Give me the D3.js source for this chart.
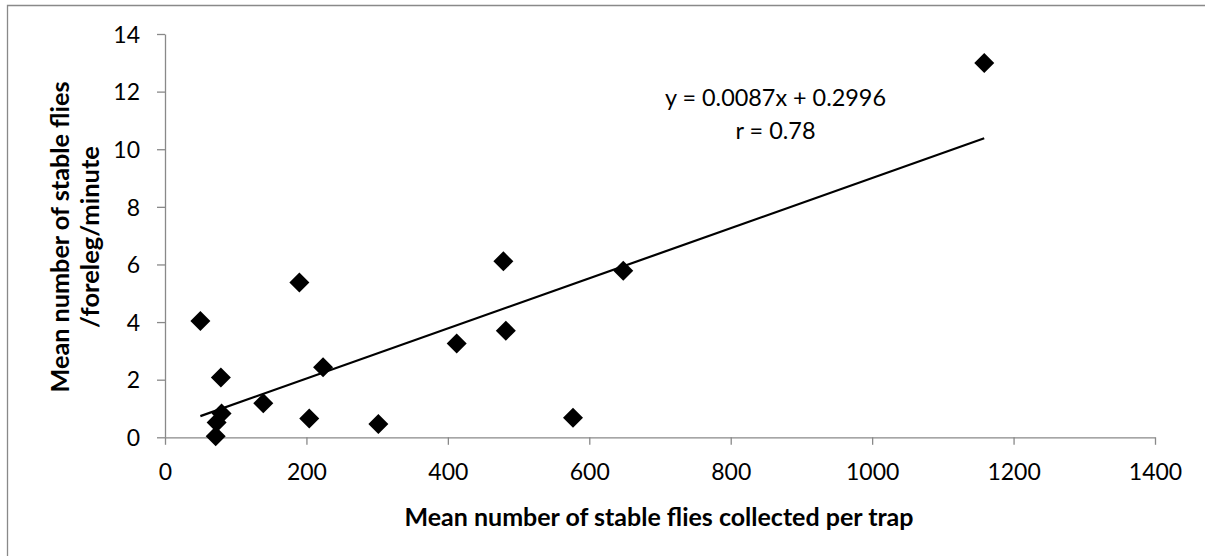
<!DOCTYPE html>
<html><head><meta charset="utf-8">
<script src="https://cdn.jsdelivr.net/npm/d3@7"></script>
<style>html,body{margin:0;padding:0;background:#fff;}svg{display:block;font-family:Lato,"Open Sans",sans-serif;}</style>
</head><body>
<script>
// Data
const xValues = [50, 190, 79, 223.5, 139, 204, 301.7, 412.5, 478.5, 482, 71.7, 73, 80, 577, 648, 1158.5];
const yValues = [4.04, 5.37, 2.08, 2.43, 1.18, 0.65, 0.46, 3.26, 6.11, 3.70, 0.04, 0.51, 0.83, 0.68, 5.78, 12.99];
const xTicks = [0, 200, 400, 600, 800, 1000, 1200, 1400];
const yTicks = [0, 2, 4, 6, 8, 10, 12, 14];
const slope = 0.0087, intercept = 0.2996;
const equationLines = ["y = 0.0087x + 0.2996", "r = 0.78"];
const xTitle = "Mean number of stable flies collected per trap";
const yTitleLines = ["Mean number of stable flies", "/foreleg/minute"];

const W = 1205, H = 556;
const svg = d3.select("body").append("svg").attr("width", W).attr("height", H);
const axisColor = "#898989";

// outer chart border (right/bottom beyond frame)
svg.append("path").attr("d", `M7.5,${H+5}V5.5H${W+5}`).attr("fill","none").attr("stroke", axisColor).attr("stroke-width",1.3);

const x = d3.scaleLinear().domain([0, 1400]).range([165, 1155]);
const y = d3.scaleLinear().domain([0, 14]).range([437.3, 34]);

// squeeze/stretch text to a target width while keeping its height
function fitText(sel, target) {
  const w = sel.node().getComputedTextLength();
  if (w > 0 && Math.abs(w - target) > 1) sel.attr("textLength", target).attr("lengthAdjust", "spacingAndGlyphs");
}

// X axis
const xAxis = svg.append("g").attr("transform", `translate(0,${y(0)})`)
  .call(d3.axisBottom(x).tickValues(xTicks).tickSize(7.5).tickSizeOuter(0).tickFormat(d3.format("d")));
xAxis.select(".domain").attr("stroke", axisColor).attr("stroke-width", 1.3);
xAxis.selectAll(".tick line").attr("stroke", axisColor).attr("stroke-width", 1.3);
xAxis.selectAll(".tick text").attr("fill", "#000").attr("font-size", 23).attr("font-family","Lato").attr("y", 0).attr("dy", 0)
  .attr("transform", "translate(0,43)");

// Y axis
const yAxis = svg.append("g").attr("transform", `translate(${x(0)},0)`)
  .call(d3.axisLeft(y).tickValues(yTicks).tickSize(8).tickSizeOuter(0).tickFormat(d3.format("d")));
yAxis.select(".domain").attr("stroke", axisColor).attr("stroke-width", 1.3);
yAxis.selectAll(".tick line").attr("stroke", axisColor).attr("stroke-width", 1.3);
yAxis.selectAll(".tick text").attr("fill", "#000").attr("font-size", 23).attr("font-family","Lato").attr("x", -25).attr("dy", "0.36em");

// Trend line
const xExt = d3.extent(xValues);
const line = d3.line().x(d => x(d)).y(d => y(slope * d + intercept));
svg.append("path").attr("d", line(xExt)).attr("fill", "none").attr("stroke", "#000").attr("stroke-width", 2.2);

// Points (diamonds)
const pts = d3.range(xValues.length).map(i => ({x: xValues[i], y: yValues[i]}));
const sym = d3.symbol().type(d3.symbolSquare).size(200);
svg.append("g").selectAll("path").data(pts).join("path")
  .attr("d", sym)
  .attr("transform", d => `translate(${x(d.x)},${y(d.y)}) rotate(45)`)
  .attr("fill", "#000");

// Equation
const eqY = [106, 139];
const eqW = [221, 80];
equationLines.forEach((t, i) => {
  const tx = svg.append("text").attr("x", 775.5).attr("y", eqY[i]).attr("text-anchor", "middle")
    .attr("font-size", 23).attr("font-family","Lato").text(t);
  fitText(tx, eqW[i]);
});

// X title
const xt = svg.append("text").attr("x", 659).attr("y", 526).attr("text-anchor", "middle")
  .attr("font-size", 24.5).attr("font-weight", "bold").attr("font-family","Lato").text(xTitle);
fitText(xt, 509);

// Y title
const ytBase = [69, 99];
const ytW = [311, 181];
yTitleLines.forEach((t, i) => {
  const tt = svg.append("text").attr("transform", `translate(${ytBase[i]},237) rotate(-90)`)
    .attr("text-anchor", "middle").attr("font-size", 25.5).attr("font-weight", "bold").attr("font-family","Lato").text(t);
  fitText(tt, ytW[i]);
});
</script>
</body></html>
